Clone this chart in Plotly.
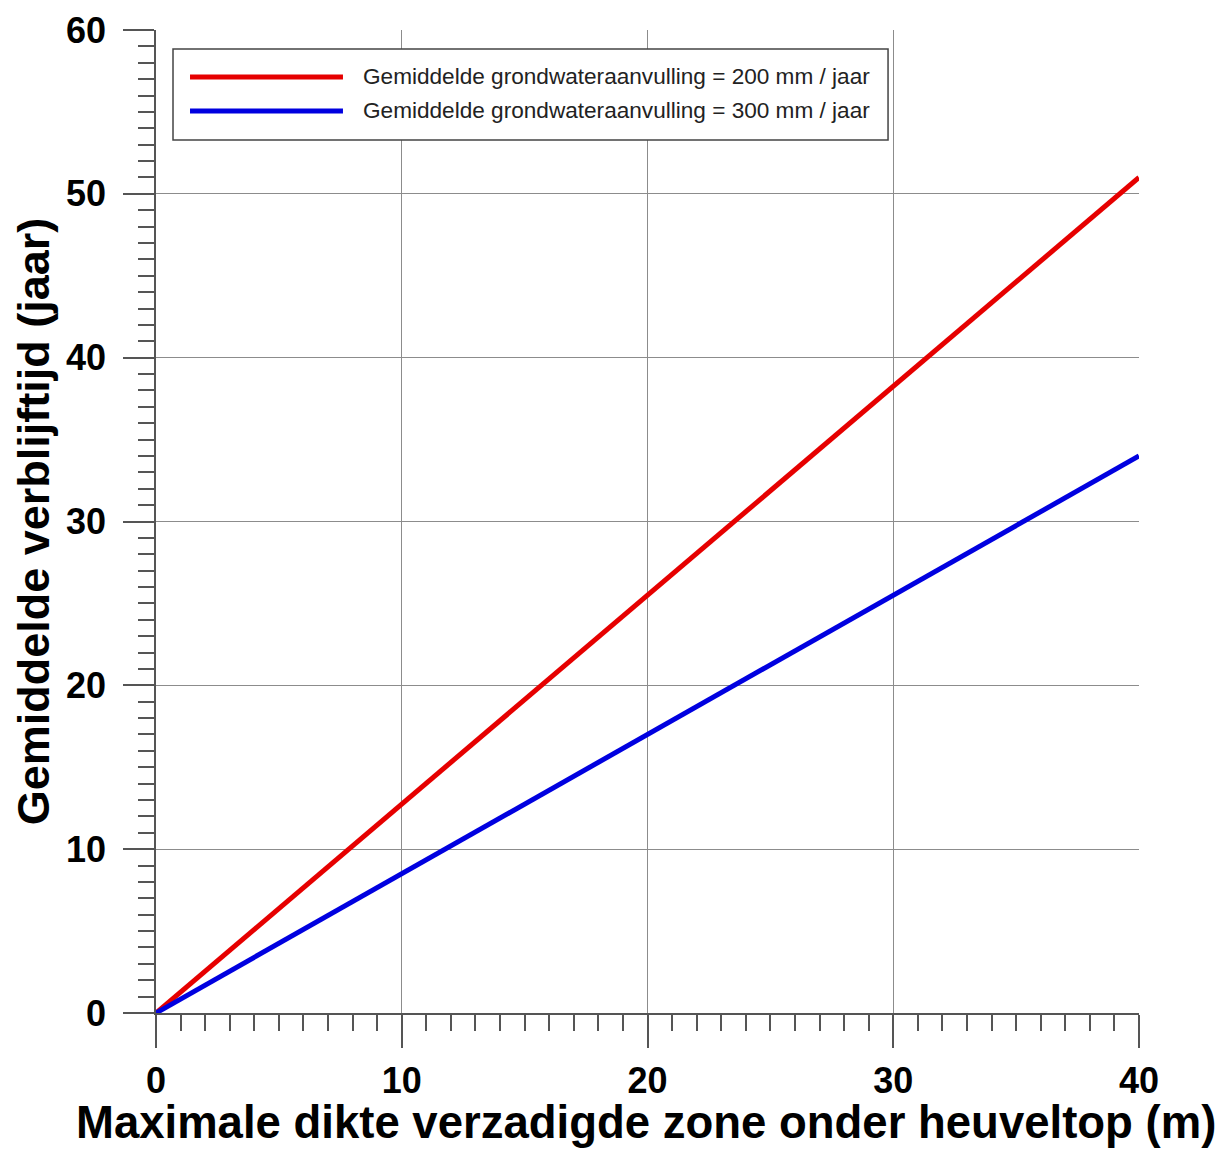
import plotly.graph_objects as go

x_thickness = [0, 40]
y_200 = [0, 51]
y_300 = [0, 34]
names = ["Gemiddelde grondwateraanvulling = 200 mm / jaar",
         "Gemiddelde grondwateraanvulling = 300 mm / jaar"]
colors = ["#e60000", "#0000e0"]
x_ticks = [0, 10, 20, 30, 40]
y_ticks = [0, 10, 20, 30, 40, 50, 60]
x_title = "Maximale dikte verzadigde zone onder heuveltop (m)"
y_title = "Gemiddelde verblijftijd (jaar)"

fig = go.Figure()
for yv, nm, c in zip([y_200, y_300], names, colors):
    fig.add_trace(go.Scatter(x=x_thickness, y=yv, mode="lines", name=nm,
                             line=dict(color=c, width=5), showlegend=False))

# manual legend (paper coordinates)
fig.add_shape(type="rect", xref="paper", yref="paper", x0=0.0173, x1=0.7447, y0=0.8881, y1=0.9807,
              line=dict(color="#444", width=1.5), fillcolor="white", layer="above")
row_y = [0.9522, 0.9176]
for ry, nm, c in zip(row_y, names, colors):
    fig.add_shape(type="line", xref="paper", yref="paper", x0=0.0346, x1=0.1902, y0=ry, y1=ry,
                  line=dict(color=c, width=5), layer="above")
    fig.add_annotation(xref="paper", yref="paper", x=0.2085, y=ry, xanchor="left", yanchor="middle",
                       text=nm, showarrow=False,
                       font=dict(family="Liberation Sans, Arial", size=22.6, color="#222"))

tickfont = dict(family="Liberation Sans, Arial", size=36, color="black", weight="bold")
titlefont = dict(family="Liberation Sans, Arial", size=45.5, color="black", weight="bold")

# x-axis title as annotation so it sits fully inside the page
fig.add_annotation(xref="paper", yref="paper", x=0.498, y=-0.1115, xanchor="center", yanchor="middle",
                   text=x_title, showarrow=False, font=titlefont)

fig.update_layout(
    width=1227, height=1151,
    margin=dict(l=148, r=96, t=22, b=146, autoexpand=False),
    paper_bgcolor="white", plot_bgcolor="white",
    showlegend=False,
    xaxis=dict(range=[0, 40], tickvals=x_ticks, showgrid=True, gridcolor="#8c8c8c", gridwidth=1,
               zeroline=False, showline=True, linecolor="#555", linewidth=1.5,
               ticks="outside", ticklen=33, tickcolor="#555", tickwidth=1.5,
               minor=dict(dtick=1, ticks="outside", ticklen=16, tickcolor="#555", tickwidth=1.5, showgrid=False),
               tickfont=tickfont, ticklabelstandoff=2, automargin=False),
    yaxis=dict(range=[0, 60], tickvals=y_ticks, showgrid=True, gridcolor="#8c8c8c", gridwidth=1,
               zeroline=False, showline=True, linecolor="#555", linewidth=1.5,
               ticks="outside", ticklen=31, tickcolor="#555", tickwidth=1.5,
               minor=dict(dtick=1, ticks="outside", ticklen=16, tickcolor="#555", tickwidth=1.5, showgrid=False),
               tickfont=tickfont, ticklabelstandoff=10, automargin=False,
               title=dict(text=y_title, font=dict(family="Liberation Sans, Arial", size=45, color="black", weight="bold"), standoff=4)),
)

fig.write_html("out.html")
